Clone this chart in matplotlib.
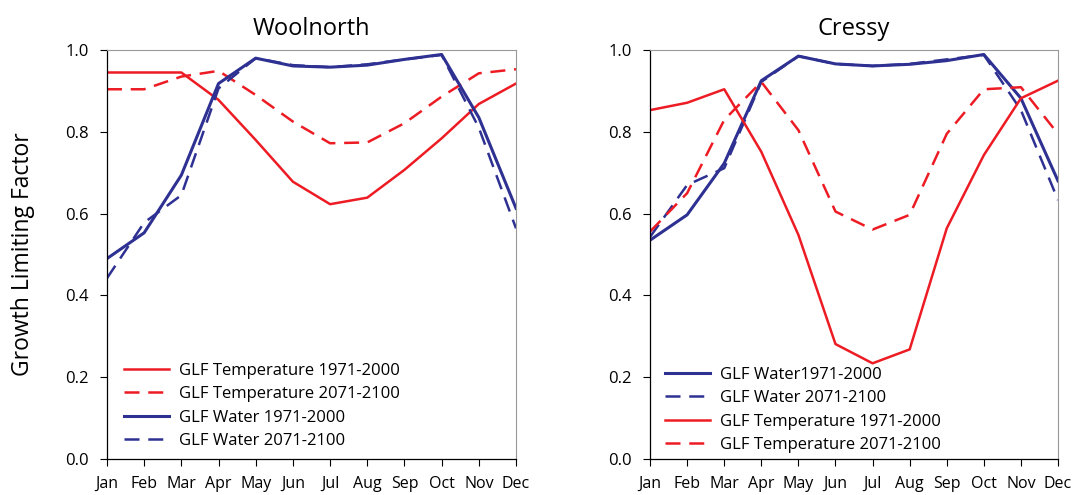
import matplotlib
matplotlib.use("Agg")
import matplotlib.pyplot as plt

months = ["Jan", "Feb", "Mar", "Apr", "May", "Jun", "Jul", "Aug", "Sep", "Oct", "Nov", "Dec"]

# Woolnorth
wool_temp_hist = [0.945, 0.945, 0.945, 0.878, 0.78, 0.678, 0.623, 0.639, 0.707, 0.784, 0.868, 0.918]
wool_temp_fut = [0.904, 0.904, 0.935, 0.949, 0.89, 0.825, 0.772, 0.774, 0.821, 0.886, 0.943, 0.953]
wool_water_hist = [0.49, 0.553, 0.694, 0.918, 0.98, 0.961, 0.958, 0.963, 0.977, 0.989, 0.835, 0.613]
wool_water_fut = [0.442, 0.578, 0.645, 0.906, 0.98, 0.963, 0.958, 0.965, 0.977, 0.988, 0.81, 0.564]

# Cressy
cres_temp_hist = [0.853, 0.871, 0.904, 0.751, 0.548, 0.281, 0.234, 0.268, 0.564, 0.743, 0.882, 0.925]
cres_temp_fut = [0.556, 0.65, 0.829, 0.922, 0.804, 0.605, 0.561, 0.597, 0.795, 0.904, 0.909, 0.795]
cres_water_hist = [0.535, 0.597, 0.723, 0.925, 0.985, 0.966, 0.961, 0.965, 0.974, 0.989, 0.882, 0.68]
cres_water_fut = [0.543, 0.67, 0.711, 0.922, 0.985, 0.966, 0.961, 0.966, 0.977, 0.988, 0.853, 0.633]

RED = "#ed1c24"
BLUE = "#2e3192"

plt.rcParams["font.family"] = ["Open Sans", "DejaVu Sans"]

fig = plt.figure(figsize=(10.75, 4.95), dpi=100)
ax1 = fig.add_axes([0.0995, 0.0727, 0.3805, 0.8263])
ax2 = fig.add_axes([0.6047, 0.0727, 0.3795, 0.8263])

x = list(range(len(months)))
dash = (0, (6, 3.5))


def style(ax, title):
    ax.set_xlim(0, 11)
    ax.set_ylim(0, 1)
    ax.set_xticks(x)
    ax.set_xticklabels(months, fontsize=11.5)
    ax.set_yticks([0, 0.2, 0.4, 0.6, 0.8, 1.0])
    ax.set_yticklabels(["0.0", "0.2", "0.4", "0.6", "0.8", "1.0"], fontsize=12)
    ax.tick_params(axis="x", direction="out", length=5, pad=7)
    ax.tick_params(axis="y", direction="out", length=5, pad=8)
    for s in ["top", "right"]:
        ax.spines[s].set_color("#999999")
        ax.spines[s].set_linewidth(0.8)
    for s in ["left", "bottom"]:
        ax.spines[s].set_linewidth(0.9)
    ax.set_title(title, fontsize=17, pad=11)


def legend(ax, x0, y0):
    ax.legend(loc="lower left", frameon=False, fontsize=12, handlelength=2.7,
              handletextpad=0.6, labelspacing=0.45, borderaxespad=0.0,
              bbox_to_anchor=(x0, y0))


ax1.plot(x, wool_temp_hist, color=RED, lw=1.8, label="GLF Temperature 1971-2000")
ax1.plot(x, wool_temp_fut, color=RED, lw=1.8, ls=dash, label="GLF Temperature 2071-2100")
ax1.plot(x, wool_water_hist, color=BLUE, lw=2.2, label="GLF Water 1971-2000")
ax1.plot(x, wool_water_fut, color=BLUE, lw=1.8, ls=dash, label="GLF Water 2071-2100")
style(ax1, "Woolnorth")
ax1.set_ylabel("Growth Limiting Factor", fontsize=16.5, labelpad=22)
legend(ax1, 0.025, 0.008)

ax2.plot(x, cres_water_hist, color=BLUE, lw=2.2, label="GLF Water1971-2000")
ax2.plot(x, cres_water_fut, color=BLUE, lw=1.8, ls=dash, label="GLF Water 2071-2100")
ax2.plot(x, cres_temp_hist, color=RED, lw=1.8, label="GLF Temperature 1971-2000")
ax2.plot(x, cres_temp_fut, color=RED, lw=1.8, ls=dash, label="GLF Temperature 2071-2100")
style(ax2, "Cressy")
legend(ax2, 0.02, -0.002)

fig.savefig("out.png", dpi=100)
